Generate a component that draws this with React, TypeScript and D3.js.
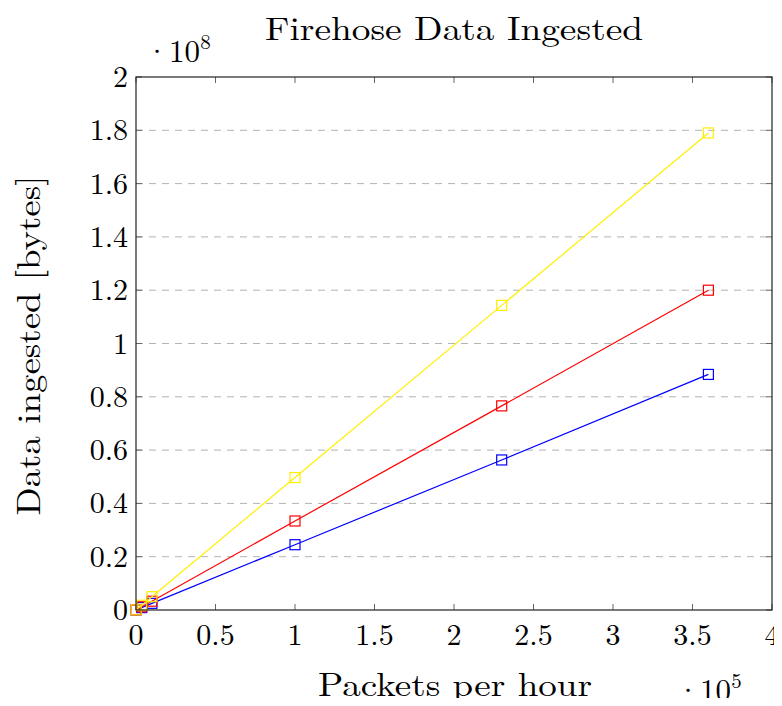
import React, { useEffect, useRef } from 'react';
import * as d3 from 'd3';

// packets per hour (x 1e5)
const packets = [0.001, 0.036, 0.1, 1, 2.3, 3.6];
// data ingested (x 1e8)
const yellowSeries = [0.0005, 0.018, 0.05, 0.497, 1.143, 1.79];
const redSeries = [0.0003, 0.012, 0.033, 0.334, 0.766, 1.2];
const blueSeries = [0.0002, 0.009, 0.025, 0.245, 0.563, 0.884];

const xTicks = [0, 0.5, 1, 1.5, 2, 2.5, 3, 3.5, 4];
const yTicks = [0, 0.2, 0.4, 0.6, 0.8, 1, 1.2, 1.4, 1.6, 1.8, 2];

const series = [
    { name: 'blue', color: '#0000ff', values: blueSeries },
    { name: 'red', color: '#ff0000', values: redSeries },
    { name: 'yellow', color: '#ffee00', values: yellowSeries },
];

const FONT = '"Latin Modern Roman", "Liberation Serif", "DejaVu Serif", serif';

const App: React.FC = () => {
    const ref = useRef<HTMLDivElement>(null);

    useEffect(() => {
        if (!ref.current) return;
        const width = 782, height = 706;
        const margin = { top: 77, right: 10, bottom: 96, left: 136 };
        const w = width - margin.left - margin.right;
        const h = height - margin.top - margin.bottom;

        const svg = d3.select(ref.current)
            .append('svg')
            .attr('width', width)
            .attr('height', height)
            .style('display', 'block')
            .style('font-family', FONT);

        const x = d3.scaleLinear().domain([0, 4]).range([0, w]);
        const y = d3.scaleLinear().domain([0, 2]).range([h, 0]);

        const g = svg.append('g').attr('transform', `translate(${margin.left},${margin.top})`);

        // grid lines
        g.selectAll('.grid')
            .data(yTicks.filter(t => t > 0 && t < 2))
            .enter()
            .append('line')
            .attr('x1', 0).attr('x2', w)
            .attr('y1', d => y(d)).attr('y2', d => y(d))
            .attr('stroke', '#b3b3b3')
            .attr('stroke-width', 1)
            .attr('stroke-dasharray', '7,6');

        // inward ticks on all sides
        const tickLen = 6;
        xTicks.forEach(t => {
            g.append('line').attr('x1', x(t)).attr('x2', x(t)).attr('y1', h).attr('y2', h - tickLen)
                .attr('stroke', '#666').attr('stroke-width', 1);
            g.append('line').attr('x1', x(t)).attr('x2', x(t)).attr('y1', 0).attr('y2', tickLen)
                .attr('stroke', '#666').attr('stroke-width', 1);
        });
        yTicks.forEach(t => {
            g.append('line').attr('x1', 0).attr('x2', tickLen).attr('y1', y(t)).attr('y2', y(t))
                .attr('stroke', '#666').attr('stroke-width', 1);
            g.append('line').attr('x1', w).attr('x2', w - tickLen).attr('y1', y(t)).attr('y2', y(t))
                .attr('stroke', '#666').attr('stroke-width', 1);
        });

        // tick labels
        g.selectAll('.xlab')
            .data(xTicks)
            .enter()
            .append('text')
            .attr('x', d => x(d))
            .attr('y', h + 35)
            .attr('text-anchor', 'middle')
            .style('font-size', '30px')
            .text(d => String(d));

        g.selectAll('.ylab')
            .data(yTicks)
            .enter()
            .append('text')
            .attr('x', -8)
            .attr('y', d => y(d) + 10)
            .attr('text-anchor', 'end')
            .style('font-size', '30px')
            .text(d => String(d));

        // series
        const line = d3.line<number>()
            .x((_, i) => x(packets[i]))
            .y(d => y(d));

        series.forEach(s => {
            g.append('path')
                .datum(s.values)
                .attr('d', line)
                .attr('fill', 'none')
                .attr('stroke', s.color)
                .attr('stroke-width', 1.2);
            g.selectAll(`.m-${s.name}`)
                .data(s.values)
                .enter()
                .append('rect')
                .attr('x', (_, i) => x(packets[i]) - 5)
                .attr('y', d => y(d) - 5)
                .attr('width', 10)
                .attr('height', 10)
                .attr('fill', 'none')
                .attr('stroke', s.color)
                .attr('stroke-width', 1.2);
        });

        // frame
        g.append('rect')
            .attr('x', 0).attr('y', 0).attr('width', w).attr('height', h)
            .attr('fill', 'none').attr('stroke', '#222').attr('stroke-width', 1.2);

        // title
        svg.append('text')
            .attr('x', 454)
            .attr('y', 40)
            .attr('text-anchor', 'middle')
            .attr('textLength', 378)
            .attr('lengthAdjust', 'spacingAndGlyphs')
            .style('font-size', '33px')
            .text('Firehose Data Ingested');

        // axis labels
        svg.append('text')
            .attr('x', 455)
            .attr('y', 696)
            .attr('text-anchor', 'middle')
            .attr('textLength', 274)
            .attr('lengthAdjust', 'spacingAndGlyphs')
            .style('font-size', '33px')
            .text('Packets per hour');

        svg.append('text')
            .attr('transform', `translate(40, ${margin.top + h / 2 + 2}) rotate(-90)`)
            .attr('text-anchor', 'middle')
            .attr('textLength', 340)
            .attr('lengthAdjust', 'spacingAndGlyphs')
            .style('font-size', '33px')
            .text('Data ingested [bytes]');

        // scale factors
        const xf = svg.append('text').attr('x', 676).attr('y', 701).style('font-size', '31px');
        xf.append('tspan').text('·10');
        xf.append('tspan').attr('dy', -13).style('font-size', '21px').text('5');

        const yf = svg.append('text').attr('x', 145).attr('y', 62).style('font-size', '31px');
        yf.append('tspan').text('·10');
        yf.append('tspan').attr('dy', -13).style('font-size', '21px').text('8');

        return () => {
            svg.remove();
        };
    }, []);

    return (
        <div style={{ margin: '-8px' }}>
            <div ref={ref}></div>
        </div>
    );
};

export default App;
